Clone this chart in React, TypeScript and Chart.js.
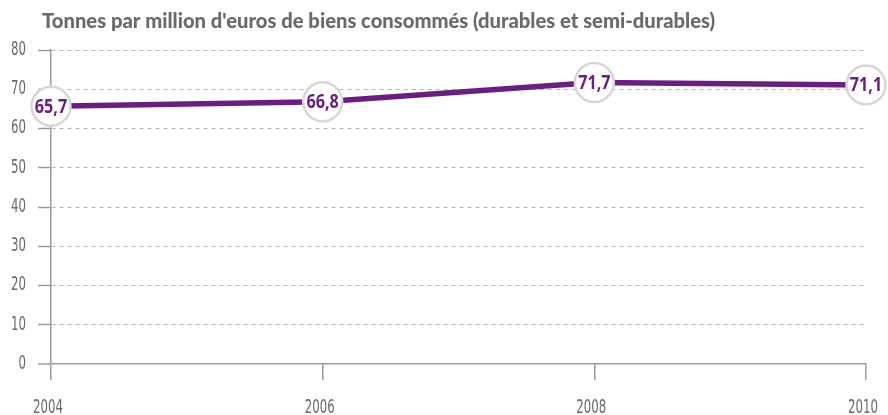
import React, { useEffect, useRef } from "react";
import { Chart, registerables } from "chart.js";

Chart.register(...registerables);

const TITLE = "Tonnes par million d'euros de biens consommés (durables et semi-durables)";
const years = ["2004", "2006", "2008", "2010"];
const tonnes = [65.7, 66.8, 71.7, 71.1];
const yTicks = [0, 10, 20, 30, 40, 50, 60, 70, 80];

const PURPLE = "#6a1f80";
const AXIS = "#9a9a9a";
const TEXT = "#6a6a6a";

const fmt = (v: number) => v.toFixed(1).replace(".", ",");

function condensedText(ctx: any, text: string, x: number, y: number, align: string, sx: number) {
  ctx.save();
  ctx.translate(x, y);
  ctx.scale(sx, 1);
  ctx.textAlign = align;
  ctx.fillText(text, 0, 0);
  ctx.restore();
}

const overlay = {
  id: "overlay",
  afterDraw(chart: any) {
    const ctx = chart.ctx;
    ctx.save();
    ctx.fillStyle = TEXT;
    ctx.font = "900 20.2px Lato, 'Open Sans', sans-serif";
    ctx.textBaseline = "middle";
    ctx.textAlign = "left";
    ctx.fillText(TITLE, 42, 21);

    // axis tick labels
    const xs = chart.scales.x;
    const ys = chart.scales.y;
    ctx.font = "19px 'DejaVu Sans', sans-serif";
    ctx.fillStyle = TEXT;
    ctx.textBaseline = "middle";
    yTicks.forEach((v) => {
      condensedText(ctx, String(v), 26, ys.getPixelForValue(v), "right", 0.62);
    });
    years.forEach((y, i) => {
      condensedText(ctx, y, xs.getPixelForValue(i) - 3, 408, "center", 0.62);
    });

    const meta = chart.getDatasetMeta(0);
    ctx.fillStyle = PURPLE;
    ctx.font = "bold 19px 'Open Sans', sans-serif";
    ctx.textAlign = "center";
    meta.data.forEach((pt: any, i: number) => {
      condensedText(ctx, fmt(tonnes[i]), pt.x, pt.y + 1, "center", 0.85);
    });
    ctx.restore();
  },
};

export default function App() {
  const ref = useRef<HTMLCanvasElement>(null);
  useEffect(() => {
    if (!ref.current) return;
    const chart = new Chart(ref.current, {
      type: "line",
      data: {
        labels: years,
        datasets: [
          {
            data: tonnes,
            borderColor: PURPLE,
            borderWidth: 5.5,
            pointRadius: 19.5,
            pointBackgroundColor: "#ffffff",
            pointBorderColor: "#d6d6d6",
            pointBorderWidth: 2.5,
            tension: 0,
            clip: false as any,
          },
        ],
      },
      options: {
        animation: false,
        responsive: false,
        maintainAspectRatio: false,
        layout: { padding: { top: 50, right: 20, left: 0, bottom: 0 } },
        plugins: { legend: { display: false }, tooltip: { enabled: false }, title: { display: false } },
        scales: {
          x: {
            type: "category",
            offset: false,
            grid: {
              display: true,
              drawOnChartArea: false,
              drawTicks: true,
              tickLength: 16,
              color: AXIS,
              lineWidth: 1.5,
            },
            border: { display: true, color: AXIS, width: 1.5 },
            ticks: { display: false },
            afterFit(scale: any) {
              scale.height = 51;
            },
          },
          y: {
            min: 0,
            max: 80,
            afterBuildTicks(scale: any) {
              scale.ticks = yTicks.map((v) => ({ value: v }));
            },
            grid: {
              display: true,
              drawOnChartArea: true,
              drawTicks: true,
              tickLength: 13,
              color: (c: any) => (c.tick && c.tick.value === 0 ? AXIS : "#b5b5b5"),
              lineWidth: (c: any) => (c.tick && c.tick.value === 0 ? 0 : 1),
              tickColor: AXIS,
              tickWidth: 1.5,
              tickBorderDash: [],
            } as any,
            border: { display: true, color: AXIS, width: 1.5, dash: [4, 4] } as any,
            ticks: { display: false },
            afterFit(scale: any) {
              scale.width = 51;
            },
          },
        },
      },
      plugins: [overlay],
    });
    return () => chart.destroy();
  }, []);
  return (
    <div style={{ position: "fixed", left: 0, top: 0, width: 888, height: 415, background: "#fff" }}>
      <canvas ref={ref} width={888} height={415} style={{ width: 888, height: 415 }} />
    </div>
  );
}
